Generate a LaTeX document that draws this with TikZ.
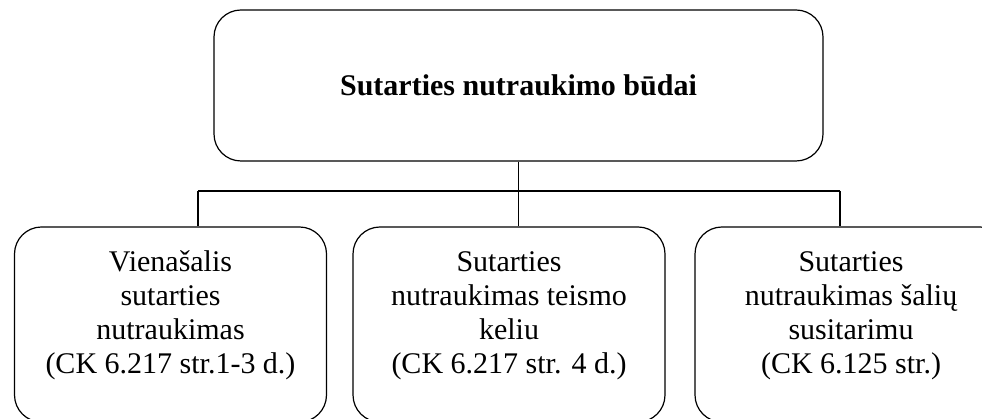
\documentclass[tikz,border=0pt]{standalone}
\usepackage{fontspec}
\setmainfont{Liberation Serif}

\begin{document}
\begin{tikzpicture}[x=1pt,y=1pt,line width=1.2pt,box/.style={draw, rounded corners=27pt, align=center, inner sep=0pt, minimum width=312pt, minimum height=195pt, font=\fontsize{30}{34}\selectfont, text depth=24pt},head/.style={draw, rounded corners=27pt, align=center, minimum width=609pt, minimum height=151pt, font=\bfseries\fontsize{30}{34}\selectfont}]
\clip (0,0) rectangle (982,419);
\node[head] (title) at (518.5,333.5) {Sutarties nutraukimo būdai};
\node[box] (left) at (170.5,94.5) {Vienašalis\\sutarties\\nutraukimas\\(CK 6.217 str.1-3 d.)};
\node[box] (mid) at (509,94.5) {Sutarties\\nutraukimas teismo\\keliu\\(CK 6.217 str. 4 d.)};
\node[box] (right) at (851,94.5) {Sutarties\\nutraukimas šalių\\susitarimu\\(CK 6.125 str.)};
\coordinate (busl) at (198,228);\coordinate (busr) at (840,228);
\draw (title.south) -- (title.south |- mid.north);\draw (busl) -- (busr);
\draw (busl) -- (busl |- left.north);\draw (busr) -- (busr |- right.north);
\end{tikzpicture}
\end{document}
